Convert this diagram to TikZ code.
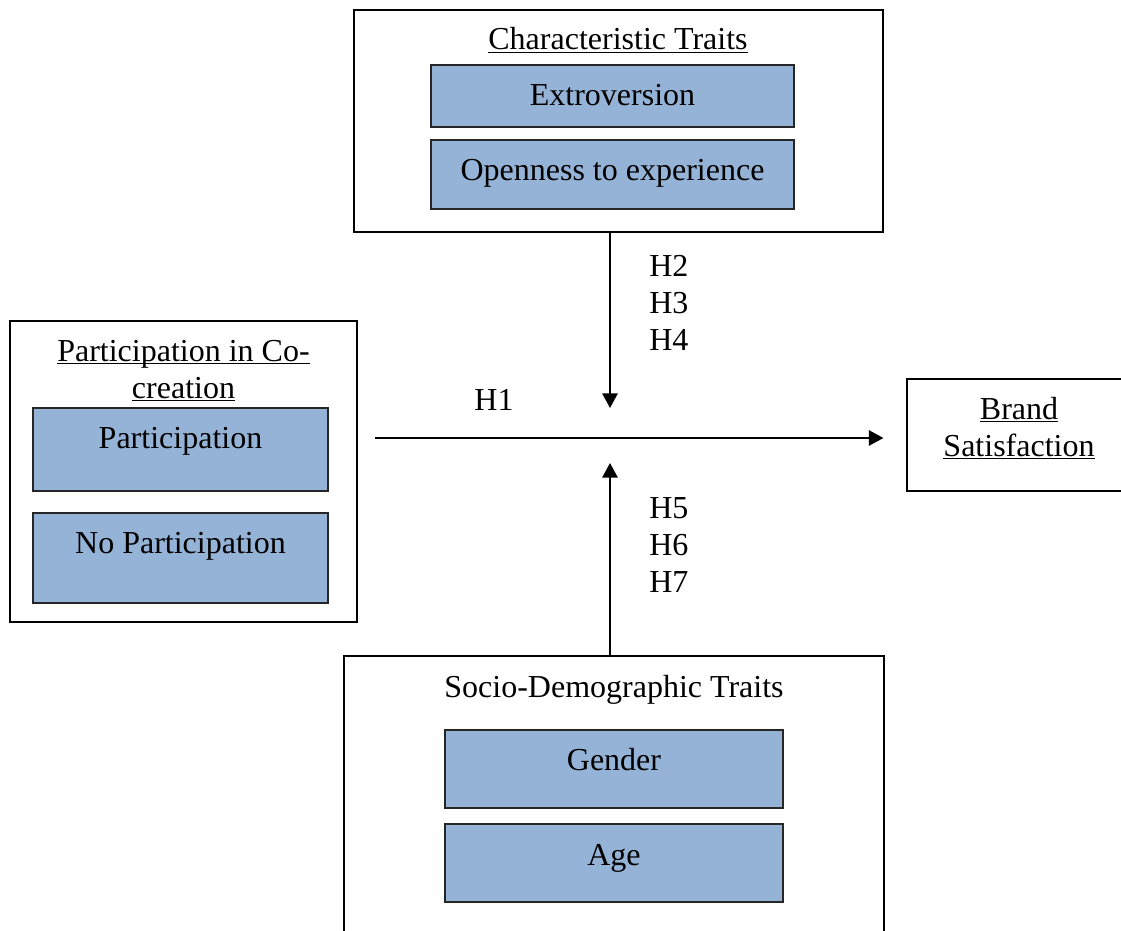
\documentclass[tikz,border=0pt]{standalone}
\usepackage{fontspec}
\setmainfont{Liberation Serif}
\usetikzlibrary{arrows.meta,positioning,fit}
\definecolor{traitblue}{HTML}{95B3D7}
\newcommand{\ulbox}[1]{\setbox0=\hbox{#1}\rlap{\rule[-2.4pt]{\wd0}{0.9pt}}\box0}

\begin{document}
\begin{tikzpicture}[
    x=0.75pt, y=-0.75pt,
    font=\fontsize{24}{28}\selectfont,
    group/.style={rectangle, draw, line width=0.8pt, inner sep=0pt},
    trait/.style={rectangle, draw=black!85, line width=1.1pt, fill=traitblue, inner sep=0pt},
    txt/.style={anchor=base, inner sep=0pt},
    arrow/.style={-{Triangle[length=11pt,width=11.5pt]}, line width=1.5pt}
]
    \useasboundingbox (0,0) rectangle (1121,931);

    % characteristic traits
    \node[group, fit={(354,10) (883,232)}] (chartraits) {};
    \node[txt] (chartitle) at (618,50) {\ulbox{Characteristic Traits}};
    \node[trait, fit={(431,65) (794,127)}] (extro) {};
    \node[txt] (extrotxt) at (extro.center |- 0,106) {Extroversion};
    \node[trait, fit={(431,140) (794,209)}] (open) {};
    \node[txt] (opentxt) at (open.center |- 0,180) {Openness to experience};

    % participation in co-creation
    \node[group, fit={(10,321) (357,622)}] (cocreation) {};
    \node[txt] (cotitle) at (cocreation.center |- 0,361) {\ulbox{Participation in Co-}};
    \node[txt] (cotitlecont) at (cocreation.center |- 0,398) {\ulbox{creation}};
    \node[trait, fit={(33,408) (328,491)}] (partic) {};
    \node[txt] (partictxt) at (partic.center |- 0,448) {Participation};
    \node[trait, fit={(33,513) (328,603)}] (nopartic) {};
    \node[txt] (nopartictxt) at (nopartic.center |- 0,553) {No Participation};

    % brand satisfaction
    \node[group, fit={(907,379) (1140,491)}] (brand) {};
    \node[txt] (brandtxt) at (1019,419) {\ulbox{Brand}};
    \node[txt] (satisftxt) at (1019,456) {\ulbox{Satisfaction}};

    % socio-demographic traits
    \node[group, fit={(344,656) (884,950)}] (sociodemo) {};
    \node[txt] (sociotitle) at (614,697) {Socio-Demographic Traits};
    \node[trait, fit={(445,730) (783,808)}] (gender) {};
    \node[txt] (gendertxt) at (gender.center |- 0,770) {Gender};
    \node[trait, fit={(445,824) (783,902)}] (age) {};
    \node[txt] (agetxt) at (age.center |- 0,865) {Age};

    % hypotheses
    \coordinate (hline) at (0,438);
    \coordinate (modtop) at (610,408);
    \coordinate (modbot) at (610,463);
    \draw[arrow, shorten <=12.75pt, shorten >=17.25pt] (cocreation.east |- hline) -- (brand.west |- hline);
    \draw[arrow] (chartraits.south -| modtop) -- (modtop);
    \draw[arrow] (sociodemo.north -| modbot) -- (modbot);

    \node[txt] (hone) at (494,410) {H1};
    \node[txt, anchor=base west] (htwo) at (649,276) {H2};
    \node[txt, anchor=base west] (hthree) at (649,313) {H3};
    \node[txt, anchor=base west] (hfour) at (649,350) {H4};
    \node[txt, anchor=base west] (hfive) at (649,518) {H5};
    \node[txt, anchor=base west] (hsix) at (649,555) {H6};
    \node[txt, anchor=base west] (hseven) at (649,592) {H7};
\end{tikzpicture}
\end{document}
